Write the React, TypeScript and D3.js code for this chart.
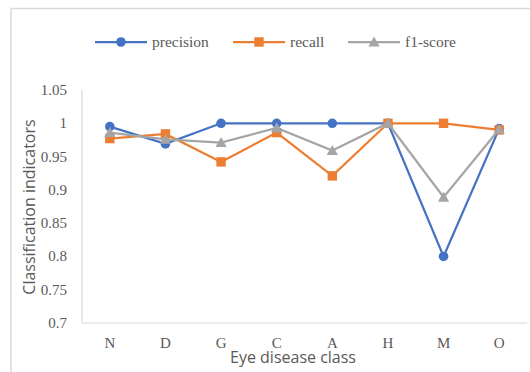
import React from "react";
import * as d3 from "d3";

const categories = ["N", "D", "G", "C", "A", "H", "M", "O"];
const precision = [0.995, 0.969, 1.0, 1.0, 1.0, 1.0, 0.8, 0.992];
const recall = [0.977, 0.984, 0.942, 0.986, 0.921, 1.0, 1.0, 0.99];
const f1score = [0.986, 0.976, 0.971, 0.993, 0.959, 1.0, 0.889, 0.991];
const yTicks = [0.7, 0.75, 0.8, 0.85, 0.9, 0.95, 1, 1.05];

const seriesNames = ["precision", "recall", "f1-score"];
const seriesColors = ["#4472C4", "#ED7D31", "#A5A5A5"];
const seriesData = [precision, recall, f1score];

const W = 530;
const H = 372;
const left = 82;
const right = 527;
const top = 90;
const bottom = 323;

function Marker({ kind, x, y, color }: { kind: number; x: number; y: number; color: string }) {
  if (kind === 0) return <circle cx={x} cy={y} r={4.8} fill={color} />;
  if (kind === 1) return <rect x={x - 4.7} y={y - 4.7} width={9.4} height={9.4} fill={color} />;
  const s = 5.6;
  return (
    <path
      d={`M${x},${y - s} L${x + s},${y + s * 0.8} L${x - s},${y + s * 0.8} Z`}
      fill={color}
    />
  );
}

export default function App() {
  const x = d3.scaleBand<string>().domain(categories).range([left, right]);
  const y = d3.scaleLinear().domain([0.7, 1.05]).range([bottom, top]);
  const cx = (c: string) => (x(c) ?? 0) + x.bandwidth() / 2;
  const line = d3
    .line<number>()
    .x((_, i) => cx(categories[i]))
    .y((v) => y(v));

  const serif = "'Liberation Serif', 'Times New Roman', serif";
  const sans = "'Open Sans', 'Noto Sans', sans-serif";
  const legendX = [95, 233, 348];

  return (
    <svg
      width={W}
      height={H}
      style={{ position: "absolute", left: 0, top: 0 }}
    >
      <rect x={0} y={0} width={W} height={H} fill="#fff" />
      <path d={`M11,${H} L11,8.5 L${W},8.5`} fill="none" stroke="#d9d9d9" strokeWidth={1.5} />

      {/* legend */}
      {seriesNames.map((n, i) => (
        <g key={n}>
          <line
            x1={legendX[i]}
            x2={legendX[i] + 52}
            y1={42}
            y2={42}
            stroke={seriesColors[i]}
            strokeWidth={2.25}
          />
          <Marker kind={i} x={legendX[i] + 26} y={42} color={seriesColors[i]} />
          <text
            x={legendX[i] + 57}
            y={47}
            fontFamily={serif}
            fontSize={15.5}
            fill="#595959"
          >
            {n}
          </text>
        </g>
      ))}

      {/* axes */}
      <line x1={left} x2={left} y1={top} y2={bottom} stroke="#d9d9d9" strokeWidth={1.2} />
      <line x1={left} x2={right} y1={bottom} y2={bottom} stroke="#d9d9d9" strokeWidth={1.2} />

      {yTicks.map((t) => (
        <text
          key={t}
          x={67}
          y={y(t) + 5}
          textAnchor="end"
          fontFamily={serif}
          fontSize={15}
          fill="#595959"
        >
          {String(t)}
        </text>
      ))}
      {categories.map((c) => (
        <text
          key={c}
          x={cx(c)}
          y={348}
          textAnchor="middle"
          fontFamily={serif}
          fontSize={15}
          fill="#595959"
        >
          {c}
        </text>
      ))}

      <text
        x={293}
        y={363}
        textAnchor="middle"
        fontFamily={sans}
        fontSize={16}
        fill="#595959"
      >
        Eye disease class
      </text>
      <text
        transform={`translate(35,207) rotate(-90)`}
        textAnchor="middle"
        fontFamily={sans}
        fontSize={16}
        fill="#595959"
      >
        Classification indicators
      </text>

      {/* series */}
      {seriesData.map((data, i) => (
        <g key={seriesNames[i]}>
          <path d={line(data) ?? ""} fill="none" stroke={seriesColors[i]} strokeWidth={2.25} />
          {data.map((v, j) => (
            <Marker key={j} kind={i} x={cx(categories[j])} y={y(v)} color={seriesColors[i]} />
          ))}
        </g>
      ))}
    </svg>
  );
}
